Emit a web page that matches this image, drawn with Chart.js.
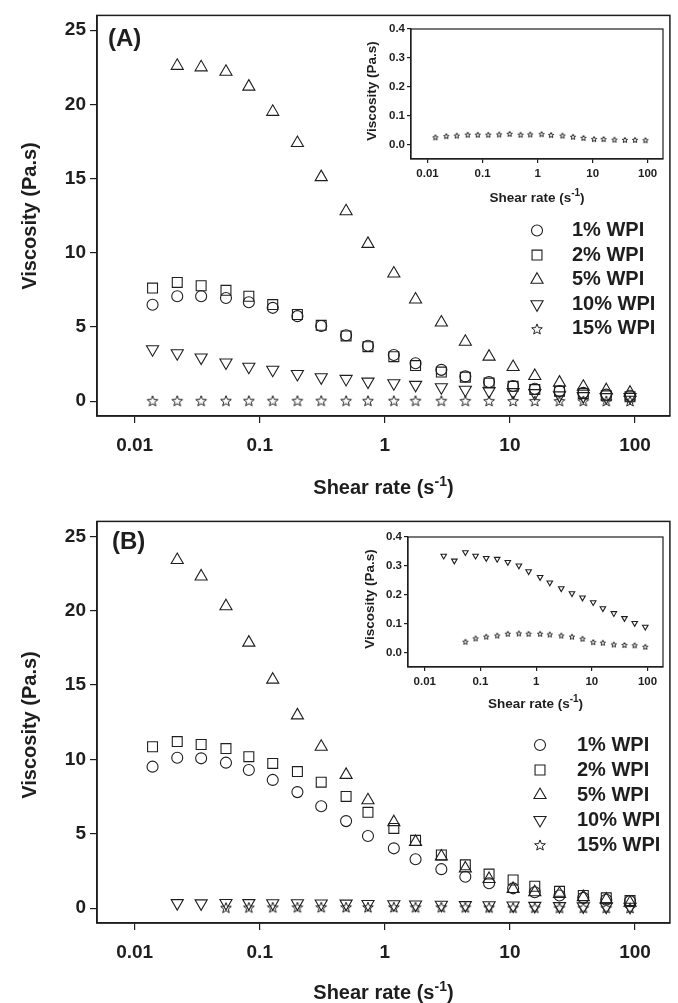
<!DOCTYPE html>
<html>
<head>
<meta charset="utf-8">
<script src="https://cdn.jsdelivr.net/npm/chart.js@4.4.1/dist/chart.umd.min.js"></script>
<style>
  body { margin: 0; background: #fff; }
  #wrap { position: relative; width: 678px; height: 1003px; }
  canvas { position: absolute; }
</style>
</head>
<body>
<div id="wrap">
  <canvas id="mainA" width="678" height="506" style="left:0;top:0"></canvas>
  <canvas id="mainB" width="678" height="497" style="left:0;top:506px"></canvas>
  <canvas id="insetA" width="338" height="215" style="left:340px;top:0"></canvas>
  <canvas id="insetB" width="338" height="215" style="left:340px;top:506px"></canvas>
</div>
<script>
// shear rate (s-1), same for every series
var shearRate = [0.0139, 0.0219, 0.034, 0.0537, 0.0818, 0.127, 0.2, 0.31, 0.49, 0.733, 1.18,
                 1.76, 2.83, 4.4, 6.81, 10.6, 15.8, 24.9, 38.6, 58.9, 91.2];

var seriesNames = ["1% WPI", "2% WPI", "5% WPI", "10% WPI", "15% WPI"];

// panel A viscosity (Pa.s)
var wpi1A = [6.5, 7.07, 7.07, 6.95, 6.67, 6.29, 5.73, 5.07, 4.44, 3.73, 3.11, 2.56, 2.11, 1.67, 1.29, 1.02, 0.84, 0.69, 0.56, 0.44, 0.36];
var wpi2A = [7.62, 8.0, 7.78, 7.47, 7.07, 6.51, 5.84, 5.11, 4.4, 3.67, 3.0, 2.4, 1.96, 1.62, 1.22, 1.0, 0.78, 0.67, 0.51, 0.36, 0.29];
var wpi5A = [null, 22.6, 22.5, 22.2, 21.2, 19.5, 17.4, 15.1, 12.8, 10.6, 8.6, 6.85, 5.3, 4.0, 3.0, 2.3, 1.7, 1.25, 0.97, 0.74, 0.57];
var wpi10A = [3.5, 3.23, 2.94, 2.61, 2.32, 2.12, 1.83, 1.61, 1.5, 1.32, 1.21, 1.1, 0.94, 0.77, 0.68, 0.61, 0.54, 0.39, 0.34, 0.28, 0.28];
var wpi15A = [0.025, 0.029, 0.031, 0.034, 0.034, 0.034, 0.035, 0.037, 0.034, 0.035, 0.036, 0.033, 0.031, 0.027, 0.023, 0.019, 0.019, 0.017, 0.016, 0.016, 0.015];

// panel B viscosity (Pa.s)
var wpi1B = [9.51, 10.11, 10.07, 9.78, 9.29, 8.62, 7.8, 6.85, 5.85, 4.85, 4.02, 3.29, 2.62, 2.11, 1.67, 1.33, 1.07, 0.85, 0.69, 0.56, 0.47];
var wpi2B = [10.85, 11.2, 11.0, 10.73, 10.18, 9.73, 9.18, 8.47, 7.51, 6.44, 5.36, 4.56, 3.58, 2.91, 2.29, 1.89, 1.47, 1.13, 0.85, 0.69, 0.51];
var wpi5B = [null, 23.4, 22.3, 20.3, 17.85, 15.36, 12.96, 10.85, 8.96, 7.25, 5.78, 4.45, 3.47, 2.67, 1.96, 1.29, 1.07, 0.96, 0.74, 0.58, 0.36];
var wpi10B = [null, 0.335, 0.318, 0.347, 0.335, 0.327, 0.324, 0.313, 0.301, 0.281, 0.261, 0.242, 0.222, 0.205, 0.19, 0.174, 0.153, 0.136, 0.119, 0.102, 0.089];
var wpi15B = [null, null, null, 0.0375, 0.049, 0.055, 0.059, 0.065, 0.066, 0.065, 0.065, 0.0625, 0.059, 0.055, 0.048, 0.036, 0.034, 0.028, 0.026, 0.025, 0.02];

var xTicks = [0.01, 0.1, 1, 10, 100];
var yTicksMain = [0, 5, 10, 15, 20, 25];
var yTicksInset = [0, 0.1, 0.2, 0.3, 0.4];

var ink = "#1e1e1e";
var fontFamily = "'Liberation Sans', Arial, sans-serif";

function starImage(outer, inner, lw) {
  var size = Math.ceil(outer * 2 + lw * 2 + 2);
  var c = document.createElement("canvas");
  c.width = size; c.height = size;
  var g = c.getContext("2d");
  g.translate(size / 2, size / 2 + outer * 0.1);
  g.beginPath();
  for (var k = 0; k < 10; k++) {
    var r = k % 2 ? inner : outer;
    var ang = -Math.PI / 2 + k * Math.PI / 5;
    g.lineTo(r * Math.cos(ang), r * Math.sin(ang));
  }
  g.closePath();
  g.strokeStyle = ink;
  g.lineWidth = lw;
  g.stroke();
  return c;
}

var starBig = starImage(5.6, 2.4, 1);
var starSmall = starImage(2.8, 1.3, 1);

function points(vals) {
  var out = [];
  vals.forEach(function (v, i) { if (v !== null) out.push({ x: shearRate[i], y: v }); });
  return out;
}

function ds(label, vals, style, radius, rotation) {
  return {
    label: label,
    data: points(vals),
    pointStyle: style,
    pointRadius: radius,
    pointRotation: rotation || 0,
    pointBorderWidth: 1.1,
    pointBorderColor: ink,
    pointBackgroundColor: "rgba(0,0,0,0)",
    showLine: false
  };
}

function supTitle(ctx, cx, cy, size, main, sup, tail) {
  var f1 = "bold " + size + "px " + fontFamily;
  var f2 = "bold " + Math.round(size * 0.72) + "px " + fontFamily;
  ctx.font = f1;
  var w1 = ctx.measureText(main).width, w3 = ctx.measureText(tail).width;
  ctx.font = f2;
  var w2 = ctx.measureText(sup).width;
  var x = cx - (w1 + w2 + w3) / 2;
  var base = cy + size * 0.36;
  ctx.textAlign = "left";
  ctx.textBaseline = "alphabetic";
  ctx.font = f1; ctx.fillText(main, x, base);
  ctx.font = f2; ctx.fillText(sup, x + w1, base - size * 0.42);
  ctx.font = f1; ctx.fillText(tail, x + w1 + w2, base);
}

var decor = {
  id: "decor",
  afterDraw: function (chart, args, o) {
    var ctx = chart.ctx, a = chart.chartArea;
    ctx.save();
    ctx.strokeStyle = ink;
    ctx.lineWidth = o.frame;
    ctx.strokeRect(a.left, a.top, a.right - a.left, a.bottom - a.top);
    ctx.fillStyle = ink;

    if (o.label) {
      ctx.font = "bold " + o.label.size + "px " + fontFamily;
      ctx.textAlign = "left";
      ctx.textBaseline = "middle";
      ctx.fillText(o.label.text, o.label.x, o.label.y);
    }

    // y title
    ctx.save();
    ctx.font = "bold " + o.titleSize + "px " + fontFamily;
    ctx.textAlign = "center";
    ctx.textBaseline = "middle";
    ctx.translate(o.yTitle[0], o.yTitle[1]);
    ctx.rotate(-Math.PI / 2);
    ctx.fillText("Viscosity (Pa.s)", 0, 0);
    ctx.restore();

    // x title
    supTitle(ctx, (a.left + a.right) / 2, o.xTitleY, o.titleSize, "Shear rate (s", "-1", ")");

    if (o.legend) {
      var L = o.legend;
      chart.data.datasets.forEach(function (d, i) {
        var y = L.y + i * L.dy;
        ctx.strokeStyle = ink;
        ctx.fillStyle = "rgba(0,0,0,0)";
        ctx.lineWidth = 1.1;
        Chart.helpers.drawPoint(ctx, {
          pointStyle: d.pointStyle, rotation: d.pointRotation,
          radius: d.pointRadius, borderWidth: 1.1
        }, L.x, y);
        ctx.fillStyle = ink;
        ctx.font = "bold " + L.size + "px " + fontFamily;
        ctx.textAlign = "left";
        ctx.textBaseline = "middle";
        ctx.fillText(d.label, L.textX, y);
      });
    }
    ctx.restore();
  }
};

function makeChart(id, datasets, cfg) {
  return new Chart(id, {
    type: "scatter",
    data: { datasets: datasets },
    plugins: [decor],
    options: {
      responsive: false,
      animation: false,
      events: [],
      layout: { padding: { top: cfg.top, right: cfg.right, left: 0, bottom: 0 } },
      plugins: {
        legend: { display: false },
        tooltip: { enabled: false },
        decor: cfg.decor
      },
      scales: {
        x: {
          type: "logarithmic",
          position: "bottom",
          min: 0.005,
          max: 190,
          afterBuildTicks: function (s) { s.ticks = xTicks.map(function (v) { return { value: v }; }); },
          afterFit: function (s) { s.height = cfg.xHeight; },
          ticks: {
            autoSkip: false, maxRotation: 0, color: ink, padding: cfg.xPad,
            font: { family: fontFamily, weight: "bold", size: cfg.tickSize },
            callback: function (v) { return String(v); }
          },
          grid: { drawOnChartArea: false, tickLength: cfg.tickLen, color: ink, lineWidth: 1.2 },
          border: { display: true, color: ink, width: cfg.decor.frame }
        },
        y: {
          type: "linear",
          min: cfg.yMin,
          max: cfg.yMax,
          afterBuildTicks: function (s) { s.ticks = cfg.yTicks.map(function (v) { return { value: v }; }); },
          afterFit: function (s) { s.width = cfg.yWidth; },
          ticks: {
            color: ink, padding: cfg.yPad,
            font: { family: fontFamily, weight: "bold", size: cfg.tickSize },
            callback: cfg.yFmt
          },
          grid: { drawOnChartArea: false, tickLength: cfg.tickLen, color: ink, lineWidth: 1.2 },
          border: { display: true, color: ink, width: cfg.decor.frame }
        }
      }
    }
  });
}

function mainSets(v1, v2, v5, v10, v15) {
  return [
    ds(seriesNames[0], v1, "circle", 5.5),
    ds(seriesNames[1], v2, "rect", 7),
    ds(seriesNames[2], v5, "triangle", 7),
    ds(seriesNames[3], v10, "triangle", 7, 180),
    ds(seriesNames[4], v15, starBig, 6)
  ];
}

var fmtMain = function (v) { return String(v); };
var fmtInset = function (v) { return v.toFixed(1); };

makeChart("mainA", mainSets(wpi1A, wpi2A, wpi5A, wpi10A, wpi15A), {
  top: 11, right: 5, xHeight: 90, yWidth: 97, xPad: 11, yPad: 4, tickLen: 7, tickSize: 19,
  yMin: -1, yMax: 26, yTicks: yTicksMain, yFmt: fmtMain,
  decor: {
    frame: 1.5, titleSize: 20, yTitle: [30, 216], xTitleY: 487,
    label: { text: "(A)", x: 108, y: 39, size: 24 },
    legend: { x: 537, textX: 572, y: 230.5, dy: 24.6, size: 20 }
  }
});

makeChart("mainB", mainSets(wpi1B, wpi2B, wpi5B, wpi10B, wpi15B), {
  top: 12, right: 5, xHeight: 80, yWidth: 97, xPad: 11, yPad: 4, tickLen: 7, tickSize: 19,
  yMin: -1, yMax: 26, yTicks: yTicksMain, yFmt: fmtMain,
  decor: {
    frame: 1.5, titleSize: 20, yTitle: [30, 219], xTitleY: 486,
    label: { text: "(B)", x: 112, y: 36, size: 24 },
    legend: { x: 540, textX: 577, y: 239, dy: 25, size: 20 }
  }
});

makeChart("insetA", [ds(seriesNames[4], wpi15A, starSmall, 3)], {
  top: 29, right: 15, xHeight: 56, yWidth: 71, xPad: 4, yPad: 2, tickLen: 4, tickSize: 11.5,
  yMin: -0.05, yMax: 0.4, yTicks: yTicksInset, yFmt: fmtInset,
  decor: { frame: 1.2, titleSize: 13.5, yTitle: [32, 91], xTitleY: 197 }
});

makeChart("insetB", [
  ds(seriesNames[3], wpi10B, "triangle", 3.2, 180),
  ds(seriesNames[4], wpi15B, starSmall, 3)
], {
  top: 31, right: 15, xHeight: 54, yWidth: 68, xPad: 4, yPad: 2, tickLen: 4, tickSize: 11.5,
  yMin: -0.05, yMax: 0.4, yTicks: yTicksInset, yFmt: fmtInset,
  decor: { frame: 1.2, titleSize: 13.5, yTitle: [30, 93], xTitleY: 197 }
});
</script>
</body>
</html>
